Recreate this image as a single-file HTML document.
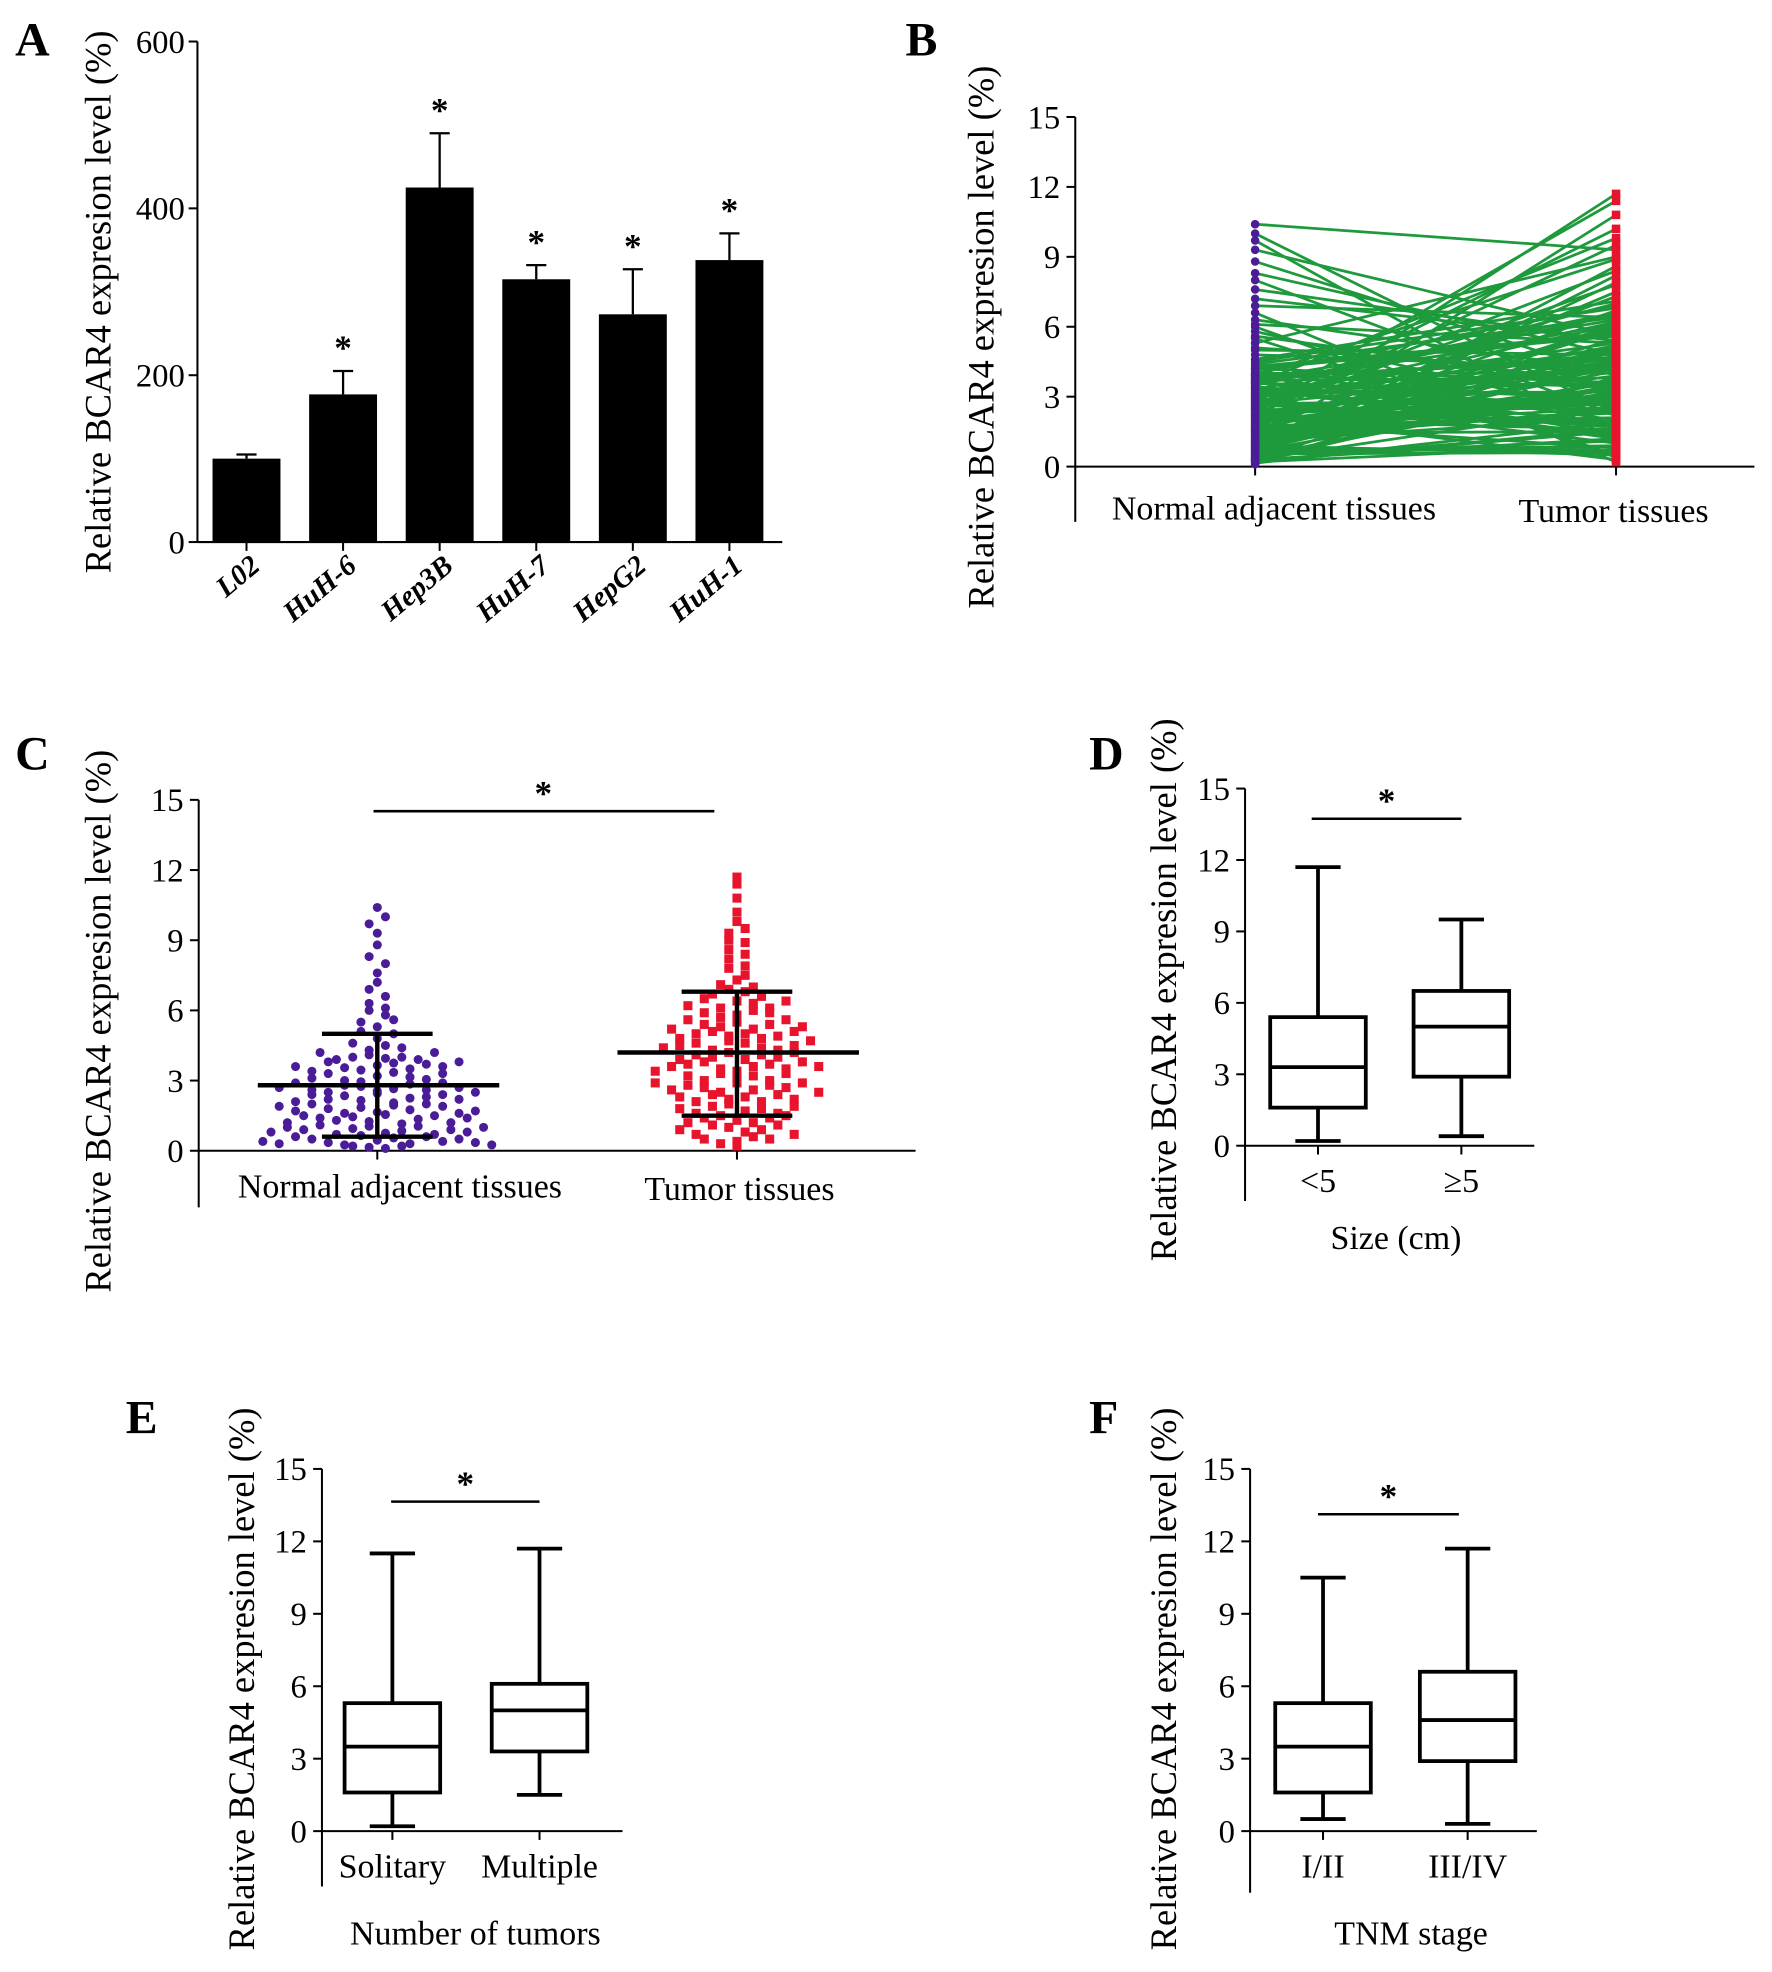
<!DOCTYPE html>
<html><head><meta charset="utf-8"><style>
html,body{margin:0;padding:0;background:#fff}
svg{display:block;font-family:"Liberation Serif",serif}
</style></head><body>
<svg id="fig" width="1772" height="1972" viewBox="0 0 1409 1568" xmlns="http://www.w3.org/2000/svg"></svg>
<script>
// ---------- data ----------
const cellLines = ["L02","HuH-6","Hep3B","HuH-7","HepG2","HuH-1"];
const barMeans = [100,177,425,315,273,338];
const barErrors = [5,28,65,17,54,32];
const barSig = [false,true,true,true,true,true];
const barTicks = [0,200,400,600];
const tissueTicks = [0,3,6,9,12,15];
const normalValues = [2.1,0.4,3.6,1.2,5.5,0.8,2.7,10.4,1.9,0.3,4.2,2.4,1.5,6.3,0.6,3.1,2.9,0.2,1.7,8.3,
3.4,1.0,2.2,0.9,4.6,1.4,3.9,0.5,2.6,7.2,1.1,3.3,0.7,5.1,2.0,1.8,9.7,0.35,2.5,3.8,
1.3,4.0,0.15,2.8,1.6,6.0,3.0,0.95,2.35,4.3,1.45,0.25,3.55,2.15,5.8,1.05,2.95,0.65,3.2,1.85,
4.8,0.45,2.45,6.9,1.25,3.45,0.75,2.05,4.1,1.55,8.8,0.55,3.65,2.25,1.15,5.3,2.75,0.85,3.95,1.65,
10.0,2.55,0.1,3.35,1.35,4.5,2.3,0.3,6.6,1.95,3.15,0.6,2.65,5.0,1.75,3.75,0.4,2.85,7.6,1.05,
4.0,2.4,0.2,3.5,1.5,9.3,2.0,0.7,3.9,1.2,5.6,2.6,0.5,3.05,1.9,6.1,2.9,0.9,3.7,1.4,
8.0,2.2,0.35,3.3,1.6,4.4,2.7,0.8,3.6,1.0,4.2,2.5,0.25,3.8,1.7];
const tumorValues = [5.2,3.4,1.8,6.7,0.5,4.4,2.9,9.3,3.9,1.2,5.6,7.8,2.3,4.1,0.9,3.6,6.2,1.6,11.7,4.8,
2.6,5.0,0.3,3.2,7.1,4.5,1.4,8.6,3.0,5.4,2.1,6.5,0.7,4.0,2.8,5.9,1.1,3.7,10.2,4.6,
2.4,6.9,1.9,5.1,3.3,0.4,4.3,7.5,2.7,5.7,1.5,3.8,9.8,4.9,2.2,6.1,1.0,3.5,5.3,0.8,
4.2,8.2,2.5,6.4,3.1,1.3,5.5,4.7,2.0,7.3,3.9,0.6,5.8,2.9,4.1,9.0,1.7,6.0,3.4,4.6,
2.3,11.4,5.2,1.2,3.6,6.8,4.4,2.6,0.2,5.0,3.2,7.9,1.8,4.8,2.1,6.3,3.7,1.4,5.4,10.8,
4.0,2.8,0.9,6.6,3.0,5.6,1.6,4.3,8.9,2.4,3.5,6.1,1.1,4.9,2.7,5.3,7.0,0.5,3.8,4.5,
2.2,9.5,5.1,1.9,3.3,6.4,4.2,0.7,2.9,5.9,3.6,8.4,1.5,4.7,2.5];
const normalStats = {mean:2.8, lo:0.6, hi:5.0};
const tumorStats = {mean:4.2, lo:1.5, hi:6.8};
const sizeGroups = ["<5","\u22655"];
const sizeBoxes = [[0.2,1.6,3.3,5.4,11.7],[0.4,2.9,5.0,6.5,9.5]];
const numGroups = ["Solitary","Multiple"];
const numBoxes = [[0.2,1.6,3.5,5.3,11.5],[1.5,3.3,5.0,6.1,11.7]];
const tnmGroups = ["I/II","III/IV"];
const tnmBoxes = [[0.5,1.6,3.5,5.3,10.5],[0.3,2.9,4.6,6.6,11.7]];

// ---------- helpers ----------
const NS="http://www.w3.org/2000/svg";
const svg=document.getElementById('fig');
function mk(tag,attrs,parent){const e=document.createElementNS(NS,tag);for(const k in attrs)e.setAttribute(k,attrs[k]);(parent||svg).appendChild(e);return e;}
function txt(s,x,y,size,parent,extra){const e=mk('text',Object.assign({x:x,y:y,'font-size':size,'text-anchor':'middle',fill:'#000'},extra||{}),parent);e.textContent=s;return e;}
function line(x1,y1,x2,y2,w,parent,col){return mk('line',{x1:x1,y1:y1,x2:x2,y2:y2,stroke:col||'#000','stroke-width':w},parent);}
function group(name){const g=mk('g',{});return g;}

function yAxis(g,ax,y0,yTop,bottom,ticks,scale,labelX){
  const a=line(ax,yTop,ax,bottom,1.6,g);
  
  
  ticks.forEach(t=>{const y=scale(t);line(ax-7,y,ax,y,1.6,g);
    const l=txt(String(t),labelX,y+9,26,g,{'text-anchor':'end'});
    
    });
}
function yTitle(g,cx,cy){
  const t=txt('Relative BCAR4 expresion level (%)',cx,cy,29,g,{transform:`rotate(-90 ${cx} ${cy})`});
  
  
}
function panelLetter(g,s,x,y){
  const t=txt(s,x,y,38,g,{'text-anchor':'start','font-weight':'bold'});
  
  
}

// ---------- Panel A ----------
(function(){
  const g=group('panel-a-bar-chart');
  const ax=157,y0=431,yTop=33;
  const ys=v=>y0-(v/600)*(y0-yTop);
  yAxis(g,ax,y0,yTop,y0,barTicks,ys,147);
  const xa=line(ax,y0,622,y0,1.6,g);
  
  
  const x0=196,step=76.8,bw=54;
  cellLines.forEach((c,i)=>{
    const cx=x0+i*step;
    const top=ys(barMeans[i]);
    const r=mk('rect',{x:cx-bw/2,y:top,width:bw,height:y0-top,fill:'#000'},g);
    
    
    const et=ys(barMeans[i]+barErrors[i]);
    line(cx,top,cx,et,1.8,g);line(cx-8,et,cx+8,et,1.8,g);
    line(cx,y0,cx,y0+7,1.6,g);
    if(barSig[i]){const s=txt('*',cx,et-9,28,g,{'font-weight':'bold'});
      
      }
    const l=txt(c,cx+12,452,23,g,{'text-anchor':'end','font-style':'italic','font-weight':'bold',transform:`rotate(-40 ${cx+12} 452)`});
    
    
  });
  yTitle(g,88,240);
  panelLetter(g,'A',12,44);
})();

// ---------- Panel B ----------
(function(){
  const g=group('panel-b-paired-lines');
  const ax=855,y0=371,yTop=93;
  const ys=v=>y0-(v/15)*(y0-yTop);
  yAxis(g,ax,y0,yTop,415,tissueTicks,ys,843);
  const xa=line(ax,y0,1395,y0,1.6,g);
  
  
  const xn=998,xt=1285;
  line(xn,y0,xn,y0+7,1.6,g);line(xt,y0,xt,y0+7,1.6,g);
  const n=Math.min(normalValues.length,tumorValues.length);
  for(let i=0;i<n;i++){
    const l=line(xn,ys(normalValues[i]),xt,ys(tumorValues[i]),2.2,g,'#1e9a3c');
    
    
  }
  normalValues.forEach(v=>{const c=mk('circle',{cx:xn,cy:ys(v),r:3.4,fill:'#4a1c98'},g);
    
    });
  tumorValues.forEach(v=>{const c=mk('rect',{x:xt-3.4,y:ys(v)-3.4,width:6.8,height:6.8,fill:'#e8142e'},g);
    
    });
  const l1=txt('Normal adjacent tissues',1013,413,27,g);
  
  
  const l2=txt('Tumor tissues',1283,415,27,g);
  
  
  yTitle(g,790,268);
  panelLetter(g,'B',720,44);
})();

// ---------- Panel C ----------
(function(){
  const g=group('panel-c-dot-plot');
  const ax=158,y0=915,yTop=636;
  const ys=v=>y0-(v/15)*(y0-yTop);
  yAxis(g,ax,y0,yTop,960,tissueTicks,ys,146);
  const xa=line(ax,y0,728,y0,1.6,g);
  
  
  function swarm(vals,cx,shape,col,name){
    const bins={};
    vals.forEach(v=>{const b=Math.round(v/0.45);(bins[b]=bins[b]||[]).push(v);});
    Object.keys(bins).forEach(b=>{
      const arr=bins[b];const k=arr.length;
      arr.forEach((v,j)=>{
        const x=cx+(j-(k-1)/2)*13;const y=ys(v);
        let e;
        if(shape==='c')e=mk('circle',{cx:x,cy:y,r:3.6,fill:col},g);
        else e=mk('rect',{x:x-3.6,y:y-3.6,width:7.2,height:7.2,fill:col},g);
        
        
      });
    });
  }
  swarm(normalValues,300,'c','#4a1c98','normal-point');
  swarm(tumorValues,586,'s','#e8142e','tumor-point');
  function stats(s,cx){
    line(cx-95,ys(s.mean),cx+97,ys(s.mean),3.5,g);
    line(cx,ys(s.lo),cx,ys(s.hi),3.5,g);
    line(cx-44,ys(s.lo),cx+44,ys(s.lo),3.5,g);
    line(cx-44,ys(s.hi),cx+44,ys(s.hi),3.5,g);
  }
  stats(normalStats,300);stats(tumorStats,586);
  line(300,y0,300,y0+7,1.6,g);line(586,y0,586,y0+7,1.6,g);
  line(297,645,568,645,2,g);
  const s=txt('*',432,640,28,g,{'font-weight':'bold'});
  
  
  const l1=txt('Normal adjacent tissues',318,952,27,g);
  
  
  const l2=txt('Tumor tissues',588,954,27,g);
  
  
  yTitle(g,88,812);
  panelLetter(g,'C',12,612);
})();

// ---------- Box plots ----------
function boxPanel(name,letter,lx,ly,ax,y0,yTop,bottom,xEnd,centers,groups,boxes,sigX1,sigX2,sigY,xTitle,xtX,xtY,titleX,titleY){
  const g=group(name);
  const ys=v=>y0-(v/15)*(y0-yTop);
  yAxis(g,ax,y0,yTop,bottom,tissueTicks,ys,ax-12);
  const xa=line(ax,y0,xEnd,y0,1.6,g);
  
  
  groups.forEach((gr,i)=>{
    const cx=centers[i],b=boxes[i],hw=38,cw=18;
    line(cx,y0,cx,y0+7,1.6,g);
    line(cx,ys(b[0]),cx,ys(b[1]),3,g);
    line(cx,ys(b[3]),cx,ys(b[4]),3,g);
    line(cx-cw,ys(b[0]),cx+cw,ys(b[0]),3,g);
    line(cx-cw,ys(b[4]),cx+cw,ys(b[4]),3,g);
    const r=mk('rect',{x:cx-hw,y:ys(b[3]),width:2*hw,height:ys(b[1])-ys(b[3]),fill:'none',stroke:'#000','stroke-width':3},g);
    
    
    line(cx-hw,ys(b[2]),cx+hw,ys(b[2]),3,g);
    const l=txt(gr,cx,y0+37,27,g);
    
    
  });
  line(sigX1,sigY,sigX2,sigY,2,g);
  const s=txt('*',(sigX1+sigX2)/2,sigY-5,28,g,{'font-weight':'bold'});
  
  
  const t=txt(xTitle,xtX,xtY,27,g);
  
  
  yTitle(g,titleX,titleY);
  panelLetter(g,letter,lx,ly);
}
boxPanel('panel-d-size-boxplot','D',866,612,990,911,627,955,1220,[1048,1162],sizeGroups,sizeBoxes,1043,1162,651,'Size (cm)',1110,993,935,787);
boxPanel('panel-e-number-boxplot','E',100,1140,256,1456,1168,1500,495,[312,429],numGroups,numBoxes,311,429,1194,'Number of tumors',378,1546,202,1335);
boxPanel('panel-f-tnm-boxplot','F',866,1140,994,1456,1168,1505,1222,[1052,1167],tnmGroups,tnmBoxes,1048,1160,1204,'TNM stage',1122,1546,935,1335);
</script>
</body></html>
